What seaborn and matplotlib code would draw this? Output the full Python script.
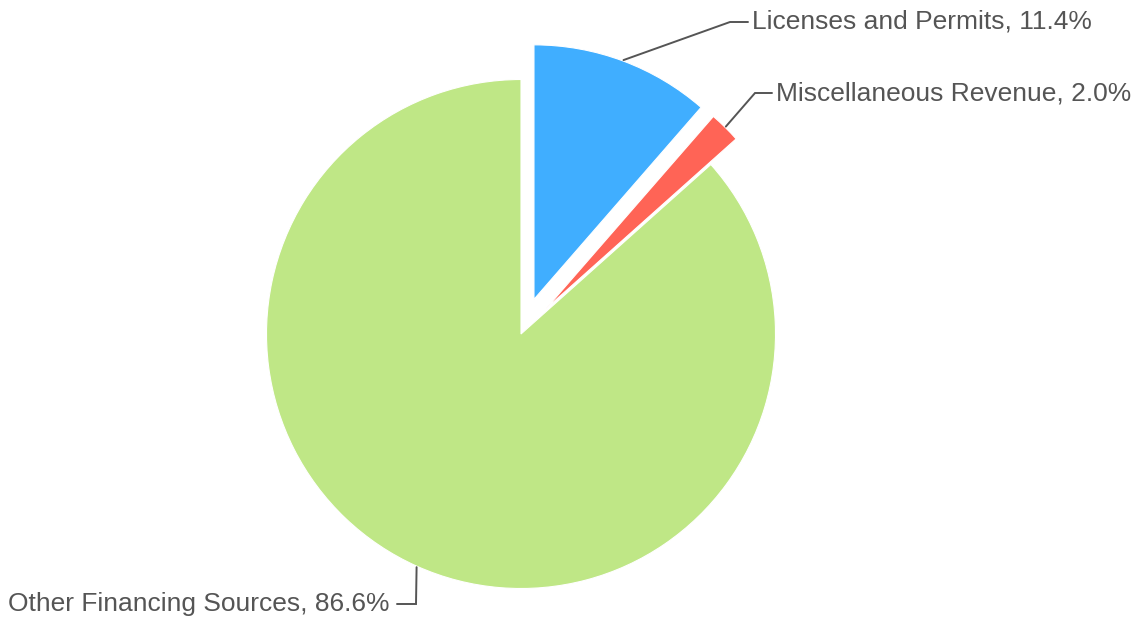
import numpy as np
import matplotlib
matplotlib.use("Agg")
import matplotlib.pyplot as plt
import seaborn as sns

# Revenue shares by source (percent)
categories = ["Licenses and Permits", "Miscellaneous Revenue", "Other Financing Sources"]
shares = [11.4, 2.0, 86.6]
colors = ["#40AEFF", "#FF6456", "#BFE786"]
explode_px = [37, 36, 0]

sns.set_theme(style="white")
plt.rcParams["font.family"] = ["Liberation Sans", "DejaVu Sans"]

W, H = 1139, 623
fig = plt.figure(figsize=(W / 100, H / 100), dpi=100)
ax = fig.add_axes([0, 0, 1, 1])

cx, cy = 521, H - 334
R = 254.5
ax.pie(shares, colors=colors, startangle=90, counterclock=False,
       explode=explode_px, radius=R, center=(cx, cy),
       wedgeprops=dict(linewidth=0.8, edgecolor="white"), frame=False)
ax.set_xlim(0, W)
ax.set_ylim(0, H)
ax.set_aspect("equal")
ax.axis("off")

# leader lines: (elbow, end) in figure pixels, text side
label_layout = [
    ((730, 22), (748, 22), "left"),
    ((755, 93), (772, 93), "left"),
    ((416, 604), (397, 604), "right"),
]

total = sum(shares)
cum = 0.0
for name, val, off, (elbow, end, side) in zip(categories, shares, explode_px, label_layout):
    mid = 90 - (cum + val / 2) / total * 360
    cum += val
    a = np.deg2rad(mid)
    r0 = R + off + 1
    sx, sy = cx + r0 * np.cos(a), cy + r0 * np.sin(a)
    ex, ey = elbow[0], H - elbow[1]
    fx, fy = end[0], H - end[1]
    ax.plot([sx, ex, fx], [sy, ey, fy], color="#555555", lw=1.4,
            solid_joinstyle="miter")
    tx = fx + 4 if side == "left" else fx - 8
    ax.text(tx, fy, f"{name}, {val:.1f}%", ha=side, va="center",
            fontsize=19.0, color="#555555")

fig.savefig("out.png", dpi=100, facecolor="white")
